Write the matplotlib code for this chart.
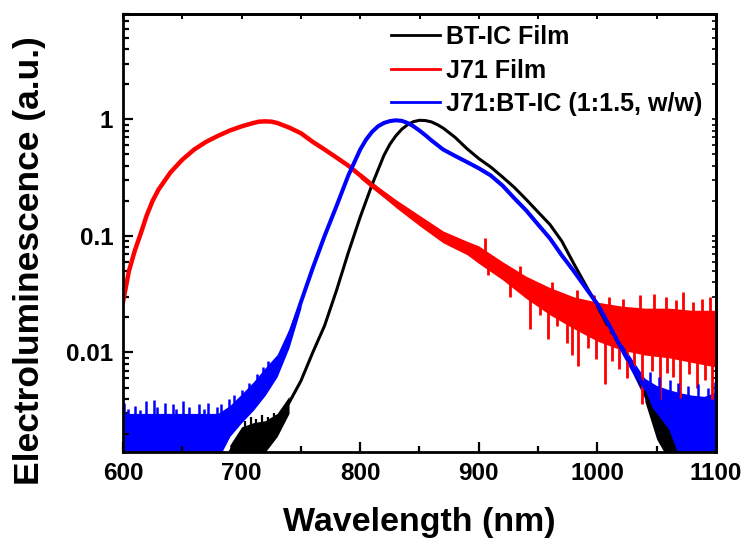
import numpy as np
import matplotlib
matplotlib.use("Agg")
import matplotlib.pyplot as plt
from matplotlib.ticker import LogLocator, NullFormatter, FixedLocator

plt.rcParams['font.family'] = ['Liberation Sans', 'DejaVu Sans']
plt.rcParams['font.weight'] = 'bold'

# ---------------- data ----------------
labels = ["BT-IC Film", "J71 Film", "J71:BT-IC (1:1.5, w/w)"]
colors = ["black", "red", "blue"]

# J71 Film (red)
red_wl = [600, 605, 610, 615, 620, 625, 630, 640, 650, 660, 670, 680, 690, 700, 710, 715, 720,
          725, 730, 740, 750, 760, 770, 780, 790, 800, 810, 820, 830, 840, 850, 860, 870, 880,
          890, 900, 910, 920, 930, 940, 950, 960, 970, 980, 990, 1000, 1010, 1020, 1030,
          1040, 1050, 1060, 1070, 1080, 1090, 1100]
red_val = [0.027, 0.050, 0.075, 0.105, 0.15, 0.20, 0.25, 0.35, 0.45, 0.55, 0.64, 0.72, 0.80,
           0.87, 0.93, 0.955, 0.96, 0.955, 0.93, 0.85, 0.76, 0.64, 0.55, 0.47, 0.40, 0.33,
           0.27, 0.225, 0.19, 0.16, 0.135, 0.113, 0.098, 0.088, 0.079, 0.069, 0.057, 0.049,
           0.043, 0.037, 0.030, 0.026, 0.022, 0.020, 0.018, 0.017, 0.0158, 0.015, 0.0148,
           0.0145, 0.014, 0.0135, 0.013, 0.013, 0.0135, 0.014]
# noise envelope of the red trace
red_band_wl = [800, 815, 830, 850, 870, 890, 900, 920, 940, 960, 980, 1000, 1020, 1040, 1060,
               1080, 1100]
red_band_lo = [0.31, 0.235, 0.175, 0.122, 0.087, 0.069, 0.058, 0.042, 0.029, 0.021, 0.016,
               0.0125, 0.0105, 0.0095, 0.009, 0.0082, 0.0075]
red_band_hi = [0.35, 0.265, 0.205, 0.150, 0.110, 0.090, 0.082, 0.060, 0.045, 0.036, 0.030,
               0.027, 0.025, 0.024, 0.024, 0.023, 0.023]
red_spike_wl = [908, 926, 943, 952, 958, 966, 974, 979, 984, 992, 999, 1006, 1012, 1018, 1025,
                1031, 1038, 1046, 1053, 1059, 1064, 1070, 1077, 1084, 1091, 1097]
red_spike_val = [0.046, 0.030, 0.016, 0.021, 0.013, 0.017, 0.012, 0.0095, 0.0076, 0.011,
                 0.0088, 0.0054, 0.0085, 0.0072, 0.006, 0.0075, 0.0036, 0.007, 0.0039, 0.0066,
                 0.0062, 0.0041, 0.0065, 0.005, 0.0058, 0.004]
red_upspike_wl = [905, 935, 962, 983, 997, 1010, 1022, 1036, 1048, 1058, 1066, 1072, 1081,
                  1088, 1095]
red_upspike_val = [0.095, 0.055, 0.040, 0.034, 0.031, 0.030, 0.029, 0.031, 0.032, 0.030,
                   0.028, 0.033, 0.027, 0.029, 0.030]

# J71:BT-IC blend (blue)
blue_wl = [600, 620, 640, 660, 680, 690, 700, 710, 720, 730, 740, 750, 760, 770, 780, 790,
           800, 805, 810, 815, 820, 825, 830, 835, 840, 845, 850, 855, 860, 870, 880, 890,
           900, 910, 920, 930, 940, 950, 960, 970, 980, 990, 1000, 1010, 1020, 1030, 1040,
           1050, 1060, 1070, 1080, 1090, 1100]
blue_val = [0.0025, 0.0025, 0.0025, 0.0025, 0.0025, 0.0028, 0.0033, 0.0042, 0.0055, 0.0080,
            0.0135, 0.027, 0.053, 0.10, 0.18, 0.33, 0.55, 0.67, 0.78, 0.87, 0.93, 0.965,
            0.98, 0.97, 0.93, 0.87, 0.80, 0.73, 0.66, 0.55, 0.485, 0.43, 0.38, 0.33, 0.27,
            0.21, 0.165, 0.125, 0.095, 0.068, 0.050, 0.036, 0.026, 0.017, 0.011, 0.0075,
            0.0050, 0.0040, 0.0034, 0.0030, 0.0028, 0.0027, 0.0027]
blue_band_wl = [600, 650, 680, 690, 700, 710, 720, 730, 740, 750]
blue_band_lo = [0.0012, 0.0012, 0.0012, 0.0019, 0.0025, 0.0032, 0.0043, 0.0062, 0.011, 0.024]
blue_band_hi = [0.0030, 0.0030, 0.0030, 0.0035, 0.0044, 0.0056, 0.0074, 0.0096, 0.016, 0.030]
blue_upspike_wl = [601, 604, 610, 614, 619, 626, 629, 635, 642, 645, 651, 656, 664, 668, 672,
                   679, 683, 689, 694, 700, 706, 713, 718, 722]
blue_upspike_val = [0.0037, 0.0033, 0.0035, 0.0032, 0.0038, 0.0039, 0.0034, 0.0037, 0.0036,
                    0.0033, 0.0038, 0.0034, 0.0036, 0.0033, 0.0037, 0.0034, 0.0036, 0.0040,
                    0.0043, 0.0048, 0.0055, 0.0065, 0.0075, 0.0085]
blue_band2_wl = [1020, 1030, 1040, 1050, 1060, 1070, 1080, 1090, 1100]
blue_band2_lo = [0.010, 0.0065, 0.0040, 0.0030, 0.0022, 0.0012, 0.0012, 0.0012, 0.0012]
blue_band2_hi = [0.012, 0.0085, 0.0060, 0.0052, 0.0048, 0.0045, 0.0043, 0.0042, 0.0046]
blue_upspike2_wl = [1044, 1052, 1061, 1068, 1076, 1085, 1093, 1099]
blue_upspike2_val = [0.0068, 0.0062, 0.0058, 0.0055, 0.0052, 0.0054, 0.0050, 0.0056]

# BT-IC Film (black)
black_wl = [690, 700, 710, 720, 730, 740, 750, 760, 770, 780, 790, 800, 810, 820, 825, 830,
            835, 840, 845, 850, 855, 860, 865, 870, 880, 890, 900, 910, 920, 930, 940, 950,
            960, 970, 980, 990, 1000, 1010, 1020, 1030, 1040, 1050, 1060, 1070]
black_val = [0.0014, 0.0019, 0.0022, 0.0023, 0.0026, 0.0037, 0.0057, 0.0100, 0.017, 0.034,
             0.072, 0.145, 0.275, 0.49, 0.61, 0.72, 0.82, 0.90, 0.955, 0.98, 0.975, 0.95,
             0.90, 0.84, 0.70, 0.56, 0.46, 0.39, 0.32, 0.26, 0.205, 0.160, 0.125, 0.090,
             0.058, 0.038, 0.025, 0.016, 0.011, 0.0075, 0.0045, 0.0025, 0.0016, 0.0013]
black_band_wl = [690, 700, 710, 720, 730, 740]
black_band_lo = [0.0012, 0.0012, 0.0012, 0.0014, 0.0019, 0.0030]
black_band_hi = [0.0016, 0.0023, 0.0025, 0.0026, 0.0030, 0.0042]
black_upspike_wl = [703, 708, 712, 717, 722, 727]
black_upspike_val = [0.0026, 0.0028, 0.0027, 0.0029, 0.0028, 0.0030]
black_band2_wl = [1040, 1050, 1060, 1070, 1080]
black_band2_lo = [0.0038, 0.0018, 0.0012, 0.0012, 0.0012]
black_band2_hi = [0.0050, 0.0032, 0.0026, 0.0022, 0.0016]

x_ticks = [600, 700, 800, 900, 1000, 1100]
x_minor = [650, 750, 850, 950, 1050]
y_ticks = [0.01, 0.1, 1]
y_ticklabels = ["0.01", "0.1", "1"]

# ---------------- figure ----------------
fig = plt.figure(figsize=(7.51, 5.44), dpi=100)
ax = fig.add_axes([123/751, 1-452/544, (716-123)/751, (452-14)/544])


def spikes(wl, val, cwl, cval, color, lw):
    base = np.interp(wl, cwl, cval)
    ax.vlines(wl, np.minimum(base, val), np.maximum(base, val), color=color, lw=lw)


# black
ax.fill_between(black_band_wl, black_band_lo, black_band_hi, color=colors[0], lw=0)
ax.fill_between(black_band2_wl, black_band2_lo, black_band2_hi, color=colors[0], lw=0)
spikes(black_upspike_wl, black_upspike_val, black_wl, black_val, colors[0], 1.6)
ax.plot(black_wl, black_val, color=colors[0], lw=2.2, label=labels[0], solid_joinstyle='round')
# red
ax.fill_between(red_band_wl, red_band_lo, red_band_hi, color=colors[1], lw=0)
spikes(red_spike_wl, red_spike_val, red_wl, red_val, colors[1], 2.0)
spikes(red_upspike_wl, red_upspike_val, red_wl, red_val, colors[1], 2.0)
ax.plot(red_wl, red_val, color=colors[1], lw=3.2, label=labels[1], solid_joinstyle='round')
# blue
ax.fill_between(blue_band_wl, blue_band_lo, blue_band_hi, color=colors[2], lw=0)
ax.fill_between(blue_band2_wl, blue_band2_lo, blue_band2_hi, color=colors[2], lw=0)
spikes(blue_upspike_wl, blue_upspike_val, blue_wl, blue_val, colors[2], 1.8)
spikes(blue_upspike2_wl, blue_upspike2_val, blue_wl, blue_val, colors[2], 1.8)
ax.plot(blue_wl, blue_val, color=colors[2], lw=2.9, label=labels[2], solid_joinstyle='round')

ax.set_yscale('log')
ax.set_xlim(600, 1100)
ax.set_ylim(0.0014, 8)

ax.xaxis.set_major_locator(FixedLocator(x_ticks))
ax.xaxis.set_minor_locator(FixedLocator(x_minor))
ax.set_xticklabels([str(v) for v in x_ticks])
ax.yaxis.set_major_locator(FixedLocator(y_ticks))
ax.set_yticklabels(y_ticklabels)
ax.yaxis.set_minor_locator(LogLocator(base=10, subs=np.arange(2, 10), numticks=20))
ax.yaxis.set_minor_formatter(NullFormatter())

ax.tick_params(which='both', direction='in', width=1.6)
ax.tick_params(which='major', length=7, labelsize=17.5, pad=7)
ax.tick_params(which='minor', length=4)
for lab in ax.get_xticklabels() + ax.get_yticklabels():
    lab.set_fontweight('bold')
for s in ax.spines.values():
    s.set_linewidth(2.0)

# short ticks on the top and right spines
top = ax.secondary_xaxis('top')
top.xaxis.set_major_locator(FixedLocator(x_ticks))
top.xaxis.set_minor_locator(FixedLocator(x_minor))
top.tick_params(which='both', direction='in', length=3.5, width=1.4, labeltop=False)
right = ax.secondary_yaxis('right')
right.set_yscale('log')
right.yaxis.set_major_locator(FixedLocator(y_ticks))
right.yaxis.set_minor_locator(LogLocator(base=10, subs=np.arange(2, 10), numticks=20))
right.yaxis.set_minor_formatter(NullFormatter())
right.tick_params(which='both', direction='in', length=3, width=1.2, labelright=False)
right.spines['right'].set_linewidth(2.0)
top.spines['top'].set_linewidth(2.0)

ax.set_xlabel("Wavelength (nm)", fontsize=24.5, fontweight='bold', labelpad=16)
ax.set_ylabel("Electroluminescence (a.u.)", fontsize=25.5, fontweight='bold')
ax.yaxis.set_label_coords(-0.130, 0.438)

leg = ax.legend(loc='upper left', bbox_to_anchor=(391/751, 1-25/544),
                bbox_transform=fig.transFigure, frameon=False, fontsize=18,
                handlelength=1.96, handletextpad=0.25, labelspacing=0.38,
                borderpad=0, borderaxespad=0)
for t in leg.get_texts():
    t.set_fontweight('bold')
for h in leg.get_lines():
    h.set_linewidth(2.0)

fig.savefig("out.png", dpi=100)
